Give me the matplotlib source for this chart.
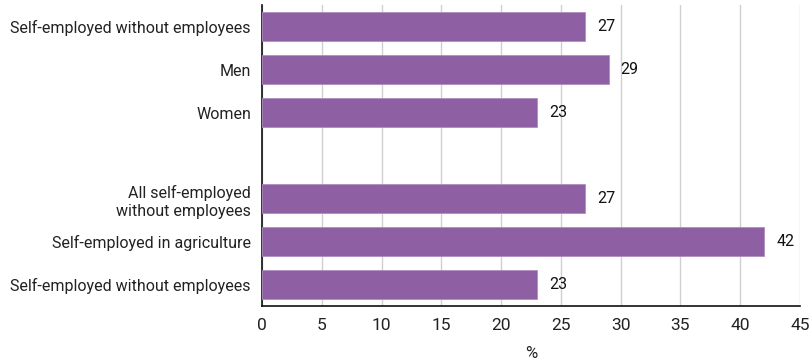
import matplotlib.pyplot as plt

plt.rcParams['font.family'] = ['Roboto', 'DejaVu Sans']

categories = [
    "Self-employed without employees",
    "Men",
    "Women",
    "",
    "All self-employed\nwithout employees",
    "Self-employed in agriculture",
    "Self-employed without employees",
]
values = [27, 29, 23, None, 27, 42, 23]

fig = plt.figure(figsize=(8.1, 3.6), dpi=100)
ax = fig.add_axes([0.3235, 0.15, 0.6642, 0.836])

pos = [i for i, v in enumerate(values) if v is not None]
vals = [v for v in values if v is not None]
ax.barh(pos, vals, height=0.67, color="#8f5fa3", edgecolor="#b08cc0",
        linewidth=0.6, zorder=3)
for p, v in zip(pos, vals):
    ax.text(v + 1.0, p, str(v), ha="left", va="center", fontsize=11.5, color="#111111")

ax.set_yticks(range(len(categories)))
ax.set_yticklabels(categories, fontsize=11.5, color="#222222", linespacing=1.25)
ax.set_ylim(6.5, -0.5)
ax.set_xlim(0, 45)
ax.set_xticks(range(0, 46, 5))
ax.tick_params(axis="x", labelsize=12.5, length=0, pad=9, colors="#222222")
ax.tick_params(axis="y", length=0, pad=8)
ax.set_xlabel("%", fontsize=12, color="#222222", labelpad=9)

ax.grid(axis="x", color="#d0d0d0", linewidth=1, zorder=0)
for s in ["top", "right"]:
    ax.spines[s].set_visible(False)
ax.spines["left"].set_color("#111111")
ax.spines["bottom"].set_color("#111111")
ax.spines["left"].set_linewidth(1.2)
ax.spines["bottom"].set_linewidth(1.2)

fig.savefig("out.png", dpi=100)
